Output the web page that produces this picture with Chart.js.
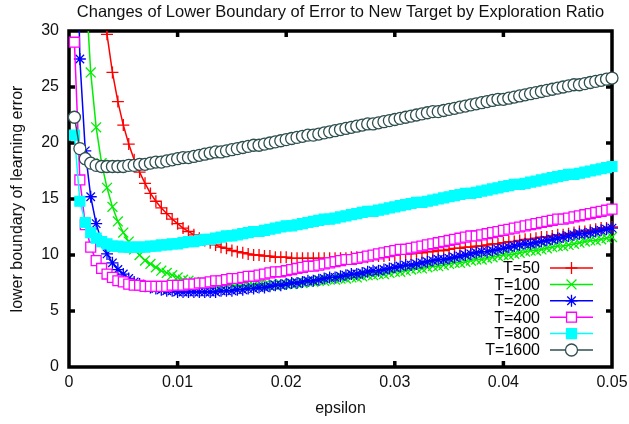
<!DOCTYPE html>
<html>
<head>
<meta charset="utf-8">
<title>Changes of Lower Boundary of Error to New Target by Exploration Ratio</title>
<script src="https://cdn.jsdelivr.net/npm/chart.js"></script>
<style>
  html, body { margin: 0; padding: 0; background: #fff; }
</style>
</head>
<body>
<canvas id="myChart" width="629" height="424"></canvas>
<script>
// epsilon values (x axis)
const eps = [
  0.0005,0.001,0.0015,0.002,0.0025,0.003,0.0035,0.004,0.0045,0.005,
  0.0055,0.006,0.0065,0.007,0.0075,0.008,0.0085,0.009,0.0095,0.01,
  0.0105,0.011,0.0115,0.012,0.0125,0.013,0.0135,0.014,0.0145,0.015,
  0.0155,0.016,0.0165,0.017,0.0175,0.018,0.0185,0.019,0.0195,0.02,
  0.0205,0.021,0.0215,0.022,0.0225,0.023,0.0235,0.024,0.0245,0.025,
  0.0255,0.026,0.0265,0.027,0.0275,0.028,0.0285,0.029,0.0295,0.03,
  0.0305,0.031,0.0315,0.032,0.0325,0.033,0.0335,0.034,0.0345,0.035,
  0.0355,0.036,0.0365,0.037,0.0375,0.038,0.0385,0.039,0.0395,0.04,
  0.0405,0.041,0.0415,0.042,0.0425,0.043,0.0435,0.044,0.0445,0.045,
  0.0455,0.046,0.0465,0.047,0.0475,0.048,0.0485,0.049,0.0495,0.05
];

// lower boundary of learning error, one list per T
const t50 = [
  197.1,99.2,66.7,50.4,40.7,34.3,29.7,26.3,23.7,21.6,
  19.9,18.5,17.4,16.4,15.5,14.8,14.2,13.7,13.2,12.8,
  12.4,12.1,11.8,11.5,11.3,11.1,10.9,10.7,10.6,10.4,
  10.3,10.2,10.1,10.0,10.0,9.9,9.9,9.8,9.8,9.8,
  9.7,9.7,9.7,9.7,9.7,9.7,9.7,9.7,9.7,9.7,
  9.7,9.8,9.8,9.8,9.8,9.9,9.9,9.9,10.0,10.0,
  10.1,10.1,10.1,10.2,10.2,10.3,10.3,10.4,10.4,10.5,
  10.6,10.6,10.7,10.7,10.8,10.8,10.9,11.0,11.0,11.1,
  11.2,11.2,11.3,11.4,11.4,11.5,11.6,11.6,11.7,11.8,
  11.8,11.9,12.0,12.1,12.1,12.2,12.3,12.4,12.4,12.5
];
const t100 = [
  100.4,50.9,34.5,26.3,21.4,18.2,16.0,14.3,13.0,12.0,
  11.2,10.5,10.0,9.5,9.2,8.9,8.6,8.4,8.2,8.0,
  7.8,7.7,7.6,7.5,7.5,7.4,7.4,7.3,7.3,7.3,
  7.3,7.3,7.3,7.3,7.3,7.3,7.3,7.3,7.4,7.4,
  7.4,7.5,7.5,7.6,7.6,7.7,7.7,7.8,7.8,7.9,
  7.9,8.0,8.0,8.1,8.2,8.2,8.3,8.3,8.4,8.5,
  8.5,8.6,8.7,8.8,8.8,8.9,9.0,9.0,9.1,9.2,
  9.3,9.3,9.4,9.5,9.6,9.6,9.7,9.8,9.9,10.0,
  10.0,10.1,10.2,10.3,10.4,10.4,10.5,10.6,10.7,10.8,
  10.8,10.9,11.0,11.1,11.2,11.3,11.3,11.4,11.5,11.6
];
const t200 = [
  52.4,27.5,19.3,15.2,12.8,11.2,10.1,9.3,8.7,8.3,
  7.9,7.6,7.4,7.2,7.1,7.0,6.9,6.8,6.8,6.7,
  6.7,6.7,6.7,6.7,6.7,6.7,6.7,6.8,6.8,6.8,
  6.9,6.9,7.0,7.0,7.1,7.1,7.2,7.3,7.3,7.4,
  7.5,7.5,7.6,7.7,7.7,7.8,7.9,8.0,8.0,8.1,
  8.2,8.3,8.3,8.4,8.5,8.6,8.6,8.7,8.8,8.9,
  9.0,9.1,9.1,9.2,9.3,9.4,9.5,9.6,9.6,9.7,
  9.8,9.9,10.0,10.1,10.2,10.3,10.3,10.4,10.5,10.6,
  10.7,10.8,10.9,11.0,11.0,11.1,11.2,11.3,11.4,11.5,
  11.6,11.7,11.8,11.9,11.9,12.0,12.1,12.2,12.3,12.4
];
const t400 = [
  29.0,16.7,12.7,10.7,9.5,8.8,8.3,8.0,7.7,7.6,
  7.4,7.3,7.3,7.2,7.2,7.2,7.2,7.2,7.3,7.3,
  7.3,7.4,7.4,7.5,7.5,7.6,7.7,7.7,7.8,7.9,
  7.9,8.0,8.1,8.1,8.2,8.3,8.4,8.5,8.5,8.6,
  8.7,8.8,8.9,9.0,9.0,9.1,9.2,9.3,9.4,9.5,
  9.6,9.6,9.7,9.8,9.9,10.0,10.1,10.2,10.3,10.4,
  10.5,10.5,10.6,10.7,10.8,10.9,11.0,11.1,11.2,11.3,
  11.4,11.5,11.6,11.7,11.7,11.8,11.9,12.0,12.1,12.2,
  12.3,12.4,12.5,12.6,12.7,12.8,12.9,13.0,13.1,13.2,
  13.2,13.3,13.4,13.5,13.6,13.7,13.8,13.9,14.0,14.1
];
const t800 = [
  20.7,14.8,12.9,12.0,11.5,11.2,11.0,10.8,10.8,10.7,
  10.7,10.7,10.7,10.7,10.8,10.8,10.9,10.9,11.0,11.0,
  11.1,11.2,11.2,11.3,11.4,11.4,11.5,11.6,11.7,11.7,
  11.8,11.9,12.0,12.1,12.1,12.2,12.3,12.4,12.5,12.6,
  12.6,12.7,12.8,12.9,13.0,13.1,13.2,13.2,13.3,13.4,
  13.5,13.6,13.7,13.8,13.9,13.9,14.0,14.1,14.2,14.3,
  14.4,14.5,14.6,14.7,14.7,14.8,14.9,15.0,15.1,15.2,
  15.3,15.4,15.5,15.5,15.6,15.7,15.8,15.9,16.0,16.1,
  16.2,16.3,16.3,16.4,16.5,16.6,16.7,16.8,16.9,17.0,
  17.1,17.2,17.2,17.3,17.4,17.5,17.6,17.7,17.8,17.9
];
const t1600 = [
  22.3,19.5,18.6,18.2,18.0,17.9,17.9,17.9,17.9,17.9,
  18.0,18.0,18.1,18.1,18.2,18.3,18.3,18.4,18.5,18.6,
  18.7,18.7,18.8,18.9,19.0,19.1,19.2,19.2,19.3,19.4,
  19.5,19.6,19.7,19.8,19.8,19.9,20.0,20.1,20.2,20.3,
  20.4,20.5,20.6,20.7,20.7,20.8,20.9,21.0,21.1,21.2,
  21.3,21.4,21.5,21.6,21.7,21.7,21.8,21.9,22.0,22.1,
  22.2,22.3,22.4,22.5,22.6,22.7,22.8,22.8,22.9,23.0,
  23.1,23.2,23.3,23.4,23.5,23.6,23.7,23.8,23.9,23.9,
  24.0,24.1,24.2,24.3,24.4,24.5,24.6,24.7,24.8,24.9,
  25.0,25.1,25.2,25.2,25.3,25.4,25.5,25.6,25.7,25.8
];

const seriesNames = ['T=50', 'T=100', 'T=200', 'T=400', 'T=800', 'T=1600'];
const seriesData = [t50, t100, t200, t400, t800, t1600];
const xTicks = [0, 0.01, 0.02, 0.03, 0.04, 0.05];
const yTicks = [0, 5, 10, 15, 20, 25, 30];
const chartTitle = 'Changes of Lower Boundary of Error to New Target by Exploration Ratio';

// gnuplot-like line/point styles
const styles = [
  { color: '#ff0000', point: 'cross',    r: 6, fill: 'rgba(0,0,0,0)' },
  { color: '#00ee00', point: 'crossRot', r: 7, fill: 'rgba(0,0,0,0)' },
  { color: '#0000ff', point: 'star',     r: 6, fill: 'rgba(0,0,0,0)' },
  { color: '#ff00ff', point: 'rect',     r: 7, fill: '#ffffff' },
  { color: '#00ffff', point: 'rect',     r: 7, fill: '#00ffff' },
  { color: '#2f4f4f', point: 'circle',   r: 6, fill: '#ffffff' }
];

const FONT = '"Liberation Sans", Arial, Helvetica, sans-serif';

const datasets = seriesNames.map((name, i) => ({
  label: name,
  data: seriesData[i],
  borderColor: styles[i].color,
  borderWidth: 1.5,
  pointStyle: styles[i].point,
  pointRadius: styles[i].r,
  pointBorderColor: styles[i].color,
  pointBackgroundColor: styles[i].fill,
  pointBorderWidth: 1.3,
  tension: 0,
  order: seriesNames.length - i,   // later series drawn on top
  clip: { left: 10, right: 10, top: 0, bottom: 0 }
}));

// frame with inward ticks on all four sides, title centred over the plot
const framePlugin = {
  id: 'frame',
  beforeDatasetsDraw(chart) {
    const { ctx, chartArea: a, scales: { x, y } } = chart;
    ctx.save();
    ctx.strokeStyle = '#000';
    ctx.lineWidth = 3.5;
    ctx.strokeRect(a.left, a.top, a.right - a.left, a.bottom - a.top);
    ctx.beginPath();
    xTicks.slice(1, -1).forEach(v => {
      const px = x.getPixelForValue(v);
      ctx.moveTo(px, a.bottom); ctx.lineTo(px, a.bottom - 6);
      ctx.moveTo(px, a.top); ctx.lineTo(px, a.top + 6);
    });
    yTicks.slice(1, -1).forEach(v => {
      const py = y.getPixelForValue(v);
      ctx.moveTo(a.left, py); ctx.lineTo(a.left + 6, py);
      ctx.moveTo(a.right, py); ctx.lineTo(a.right - 6, py);
    });
    ctx.stroke();

    ctx.fillStyle = '#111';
    ctx.font = '16.5px ' + FONT;
    ctx.textAlign = 'center';
    ctx.textBaseline = 'middle';
    ctx.fillText(chartTitle, (a.left + a.right) / 2, 12);
    ctx.restore();
  }
};

// key in the lower right, text left of the sample
const keyPlugin = {
  id: 'key',
  afterDraw(chart) {
    const { ctx, chartArea: a } = chart;
    const textRight = a.right - 72;
    const lineL = a.right - 62, lineR = a.right - 19;
    const top = a.bottom - 99, step = 16.4;
    ctx.save();
    ctx.font = '16px ' + FONT;
    ctx.textAlign = 'right';
    ctx.textBaseline = 'middle';
    chart.data.datasets.forEach((ds, i) => {
      const yy = top + i * step;
      ctx.fillStyle = '#000';
      ctx.fillText(ds.label, textRight, yy + 1);
      ctx.strokeStyle = ds.borderColor;
      ctx.lineWidth = ds.borderWidth;
      ctx.beginPath(); ctx.moveTo(lineL, yy); ctx.lineTo(lineR, yy); ctx.stroke();
      ctx.fillStyle = ds.pointBackgroundColor;
      ctx.strokeStyle = ds.pointBorderColor;
      ctx.lineWidth = ds.pointBorderWidth;
      Chart.helpers.drawPoint(ctx, {
        pointStyle: ds.pointStyle, radius: ds.pointRadius,
        rotation: 0, borderWidth: ds.pointBorderWidth
      }, (lineL + lineR) / 2, yy);
    });
    ctx.restore();
  }
};

new Chart(document.getElementById('myChart'), {
  type: 'line',
  data: { labels: eps, datasets: datasets },
  plugins: [framePlugin, keyPlugin],
  options: {
    responsive: false,
    animation: false,
    events: [],
    layout: { padding: { left: 0, right: 17, top: 31, bottom: 0 } },
    plugins: {
      legend: { display: false },
      tooltip: { enabled: false },
      title: { display: false }
    },
    scales: {
      x: {
        type: 'linear',
        min: 0, max: 0.05,
        afterBuildTicks: s => { s.ticks = xTicks.map(v => ({ value: v })); },
        afterFit: s => { s.height = 57; s.paddingLeft = 0; s.paddingRight = 0; },
        grid: { display: false, drawTicks: false },
        border: { display: false },
        ticks: {
          color: '#111', padding: 6,
          font: { family: FONT, size: 16 },
          callback: v => String(v)
        },
        title: {
          display: true, text: 'epsilon', color: '#111',
          font: { family: FONT, size: 16 },
          padding: { top: 0, bottom: 6 }
        }
      },
      y: {
        min: 0, max: 30,
        afterBuildTicks: s => { s.ticks = yTicks.map(v => ({ value: v })); },
        afterFit: s => { s.width = 69; s.paddingTop = 0; s.paddingBottom = 0; },
        grid: { display: false, drawTicks: false },
        border: { display: false },
        ticks: {
          color: '#111', padding: 10,
          font: { family: FONT, size: 16 },
          callback: v => String(v)
        },
        title: {
          display: true, text: 'lower boundary of learning error', color: '#111',
          font: { family: FONT, size: 16 },
          padding: { top: 8, bottom: 0 }
        }
      }
    }
  }
});
</script>
</body>
</html>
